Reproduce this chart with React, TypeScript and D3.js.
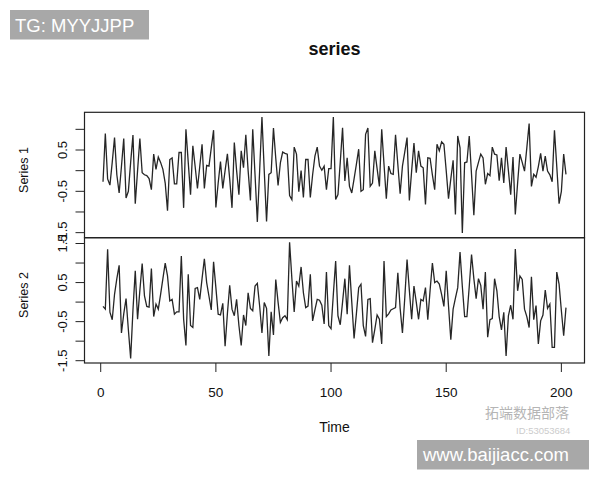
import React from "react";
import * as d3 from "d3";

const series1: number[] = [
  -0.27, 0.9, -0.2, -0.35, 0.2, 0.8, -0.1, -0.54, 0.1, 0.78,
  -0.66, -0.5, 0.2, 0.86, -0.8, 0.0, 0.78, -0.05, -0.1, -0.12,
  -0.19, -0.46, 0.4, 0.03, 0.33, 0.2, 0.03, -0.3, -0.97, 0.27,
  0.31, -0.32, -0.32, 0.44, 0.44, -0.9, 1.0, 0.2, -0.58, 0.6,
  0.1, -0.43, 0.1, 0.64, -0.43, 0.13, 0.11, 0.55, 0.98, -0.89,
  -0.3, 0.22, -0.43, 0.0, 0.41, -0.2, -0.9, 0.68, 0.0, -0.58,
  0.48, 0.07, 0.87, 0.0, -0.72, 1.0, -0.1, -1.24, 0.0, 1.3,
  0.0, -1.23, -0.09, -0.05, 1.03, 0.3, -0.36, 0.19, 0.45, 0.42,
  0.4, -0.6, -0.7, 0.57, 0.4, -0.51, 0.0, -0.65, 0.27, 0.27,
  -0.65, -0.1, 0.35, 0.57, 0.11, 0.01, 0.11, -0.46, 0.05, 0.05,
  1.3, -0.7, -0.58, 0.2, 1.04, -0.25, 0.31, -0.38, -0.54, -0.2,
  0.15, 0.52, -0.5, -0.46, 0.88, 1.03, -0.38, -0.3, 0.48, 0.05,
  -0.38, 1.0, 0.15, -0.68, 0.11, -0.07, -0.09, 0.87, 0.15, -0.56,
  0.11, 0.45, 0.8, -0.72, 0.0, 0.67, -0.05, 0.48, 0.11, 0.07,
  -0.82, 0.31, 0.3, -0.1, -0.46, 0.64, 0.48, 0.7, 0.64, 0.0,
  -0.68, -0.2, 0.25, -1.06, 0.84, 0.55, -1.51, 0.19, 0.21, 0.84,
  -0.1, -1.08, -0.01, 0.2, 0.4, 0.31, -0.33, -0.07, -0.12, 0.57,
  0.4, 0.38, -0.24, 0.31, -0.3, 0.57, 0.0, -0.58, 0.33, -1.06,
  -0.3, 0.4, 0.2, -0.01, 0.55, 1.14, -0.38, -0.09, -0.16, 0.1,
  0.42, -0.01, 0.35, -0.01, -0.1, -0.27, 0.98, 0.1, -0.8, -0.5,
  0.4, -0.09,
];

const series2: number[] = [
  -0.11, -0.18, 1.35, -0.26, -0.45, 0.2, 0.6, 0.94, -0.79, -0.3,
  0.09, -0.7, -1.44, -0.2, 0.8, -0.44, 0.3, 0.99, 0.16, -0.11,
  -0.13, 0.86, -0.37, -0.05, -0.18, 0.2, 0.6, 1.0, 0.67, 0.03,
  0.07, -0.31, -0.25, -0.25, 1.18, -0.44, -1.11, 0.71, -0.6, -0.65,
  0.35, 0.37, 0.07, 0.6, 1.11, 0.5, 0.15, -0.2, 1.03, 0.37,
  -0.31, -0.33, -0.03, -1.13, -0.3, 0.43, -0.18, -0.35, 0.07, -0.6,
  -1.11, -0.33, -0.6, 0.24, -0.16, -0.22, 0.41, 0.48, -0.1, -0.79,
  -0.01, -0.16, -1.38, -0.25, -0.84, 0.58, 0.0, -0.52, -0.4, -0.35,
  -0.45, 1.53, 0.6, -0.25, 0.54, 0.41, 0.9, 0.24, -0.14, -0.1,
  0.71, -0.48, -0.2, 0.07, 0.05, -0.08, -0.56, 0.77, -0.6, -0.68,
  0.2, 1.05, -0.35, -0.58, 0.0, 0.6, -0.31, 0.94, 0.0, -0.93,
  -0.3, 0.37, 0.46, -0.6, -0.88, 0.07, 0.09, -1.04, -0.7, -0.33,
  -0.44, -1.07, 1.05, -0.37, -0.3, -0.2, -0.17, -0.14, 0.75, -0.16,
  -0.79, 0.1, 1.09, 0.3, -0.44, 0.41, 0.0, -0.44, 0.07, 0.03,
  0.37, -0.45, 0.3, 1.0, 0.5, 0.54, 0.46, 0.2, -0.11, 0.8,
  -0.1, -0.96, -0.18, 0.1, 0.37, 1.28, 0.4, -0.37, -0.37, 0.4,
  1.22, 0.6, 0.09, 0.6, 0.43, -0.18, 0.77, -0.9, -0.45, -0.42,
  0.6, 0.29, -0.37, -0.71, -0.26, -1.38, -0.35, -0.08, -0.44, 1.36,
  0.29, 0.67, 0.58, -0.18, -0.37, -0.65, 0.65, -0.45, -0.09, -1.07,
  -0.48, -0.33, 0.31, -0.16, -0.05, -1.16, -1.16, 0.77, 0.46, -0.22,
  -0.86, -0.14,
];

const xTicks: number[] = [0, 50, 100, 150, 200];
const topTicks: number[] = [-1.5, -1, -0.5, 0, 0.5, 1];
const topTickLabels: number[] = [-1.5, -0.5, 0.5];
const bottomTicks: number[] = [-1.5, -1, -0.5, 0, 0.5, 1, 1.5];
const bottomTickLabels: number[] = [-1.5, -0.5, 0.5, 1.5];
const panelNames: string[] = ["Series 1", "Series 2"];

const FONT = "'Liberation Sans', Arial, Helvetica, sans-serif";

function padDomain(vals: number[], frac: number): [number, number] {
  const [lo, hi] = d3.extent(vals) as [number, number];
  const p = (hi - lo) * frac;
  return [lo - p, hi + p];
}

export default function App() {
  const W = 600;
  const H = 480;
  const left = 84.5;
  const right = 584.5;
  const top = 112.3;
  const mid = 237.7;
  const bottom = 363;

  const n = series1.length;
  const times = d3.range(1, n + 1);
  const xDom = padDomain(times, 0.04);
  const x = d3.scaleLinear().domain(xDom).range([left, right]);

  const y1 = d3.scaleLinear().domain(padDomain(series1, 0.04)).range([mid, top]);
  const y2 = d3.scaleLinear().domain(padDomain(series2, 0.04)).range([bottom, mid]);

  const line1 = d3
    .line<number>()
    .x((_, i) => x(times[i]))
    .y((d) => y1(d));
  const line2 = d3
    .line<number>()
    .x((_, i) => x(times[i]))
    .y((d) => y2(d));

  const fmt = (v: number) => (v === 0 ? "0" : String(v));

  const panels = [
    { y: y1, ticks: topTicks, labels: topTickLabels, path: line1(series1), name: panelNames[0], cy: 170 },
    { y: y2, ticks: bottomTicks, labels: bottomTickLabels, path: line2(series2), name: panelNames[1], cy: 295 },
  ];

  return (
    <svg
      width={W}
      height={H}
      viewBox={`0 0 ${W} ${H}`}
      style={{ position: "absolute", left: 0, top: 0, background: "#fff" }}
      fontFamily={FONT}
    >
      <rect x={0} y={0} width={W} height={H} fill="#fff" />

      {/* Title */}
      <text x={(left + right) / 2} y={55} textAnchor="middle" fontSize={18} fontWeight="bold" fill="#111">
        series
      </text>

      {panels.map((p, k) => (
        <g key={k}>
          <path d={p.path || ""} fill="none" stroke="#262626" strokeWidth={1.3} strokeLinejoin="miter" />
          {p.ticks.map((t) => (
            <line key={t} x1={left - 9} x2={left} y1={p.y(t)} y2={p.y(t)} stroke="#222" strokeWidth={1} />
          ))}
          {p.labels.map((t) => (
            <text
              key={t}
              transform={`translate(67,${p.y(t)}) rotate(-90)`}
              textAnchor="middle"
              fontSize={13}
              fill="#111"
            >
              {fmt(t)}
            </text>
          ))}
          <text
            transform={`translate(27.5,${p.cy}) rotate(-90)`}
            textAnchor="middle"
            fontSize={12.5}
            fill="#111"
          >
            {p.name}
          </text>
        </g>
      ))}

      {/* Frames */}
      <rect x={left} y={top} width={right - left} height={mid - top} fill="none" stroke="#222" strokeWidth={1.2} />
      <rect x={left} y={mid} width={right - left} height={bottom - mid} fill="none" stroke="#222" strokeWidth={1.2} />

      {/* X axis */}
      {xTicks.map((t) => (
        <g key={t}>
          <line x1={x(t)} x2={x(t)} y1={bottom} y2={bottom + 9} stroke="#222" strokeWidth={1} />
          <text x={x(t)} y={397} textAnchor="middle" fontSize={13.5} fill="#111">
            {t}
          </text>
        </g>
      ))}
      <text x={(left + right) / 2} y={432} textAnchor="middle" fontSize={14} fill="#111">
        Time
      </text>

      {/* Watermarks */}
      <text x={485} y={418} fontSize={14} fill="#b5b5b5" fontFamily="'Noto Sans CJK SC', sans-serif">
        拓端数据部落
      </text>
      <text x={516} y={434} fontSize={9.5} fill="#cccccc">
        ID:53053684
      </text>

      <rect x={10} y={10} width={139} height={29.5} fill="#a8a8a8" />
      <text x={15} y={32} fontSize={18.5} fill="#fff">
        TG: MYYJJPP
      </text>

      <rect x={417} y={440} width={172} height={29.5} fill="#a8a8a8" />
      <text x={423} y={461} fontSize={18.5} fill="#fff">
        www.baijiacc.com
      </text>
    </svg>
  );
}
